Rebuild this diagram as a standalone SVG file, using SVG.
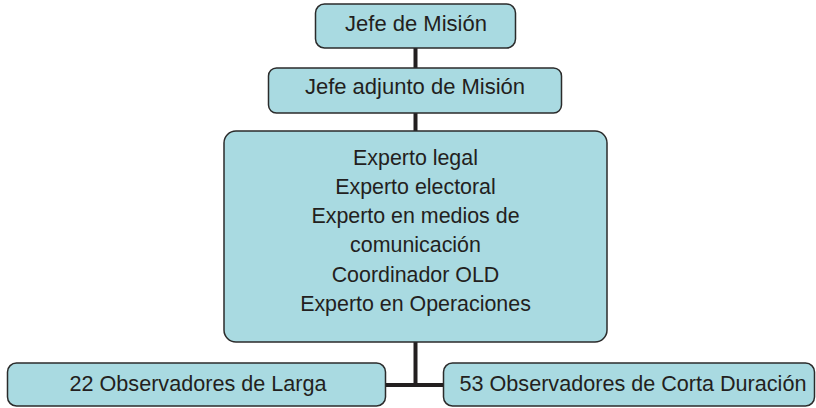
<svg xmlns="http://www.w3.org/2000/svg" width="816" height="408" viewBox="0 0 816 408">
<style>
.box{fill:#a9dae1;stroke:#2b2b2b;stroke-width:1.5}
.t{font-family:"Liberation Sans",Arial,sans-serif;font-size:21.4px;fill:#231f20;text-anchor:middle}
.big{font-size:22px}
.bot{font-size:21.6px}
.c{stroke:#231f20;stroke-width:4;fill:none}
</style>
<rect width="816" height="408" fill="#ffffff"/>
<g id="connectors">
<line class="c" x1="415.5" y1="48" x2="415.5" y2="68"/>
<line class="c" x1="415.5" y1="112" x2="415.5" y2="131"/>
<line class="c" x1="415.5" y1="342" x2="415.5" y2="385"/>
<line class="c" x1="386" y1="385" x2="443" y2="385"/>
</g>
<g id="jefe">
<rect class="box" x="315.5" y="4" width="200" height="44" rx="9"/>
<text class="t big" x="416" y="31">Jefe de Misión</text>
</g>
<g id="adjunto">
<rect class="box" x="268.5" y="68" width="293" height="45" rx="8"/>
<text class="t big" x="415" y="94">Jefe adjunto de Misión</text>
</g>
<g id="expertos">
<rect class="box" x="224" y="131" width="383" height="211" rx="12"/>
<text class="t" x="415.5" y="165">Experto legal</text>
<text class="t" x="415.5" y="194">Experto electoral</text>
<text class="t" x="415.5" y="223">Experto en medios de</text>
<text class="t" x="415.5" y="252">comunicación</text>
<text class="t" x="415.5" y="282">Coordinador OLD</text>
<text class="t" x="415.5" y="311">Experto en Operaciones</text>
</g>
<g id="larga">
<rect class="box" x="7.5" y="363" width="378" height="43" rx="9"/>
<text class="t bot" x="198" y="391">22 Observadores de Larga</text>
</g>
<g id="corta">
<rect class="box" x="443.5" y="363" width="371" height="43" rx="9"/>
<text class="t bot" x="633" y="391">53 Observadores de Corta Duración</text>
</g>
</svg>
